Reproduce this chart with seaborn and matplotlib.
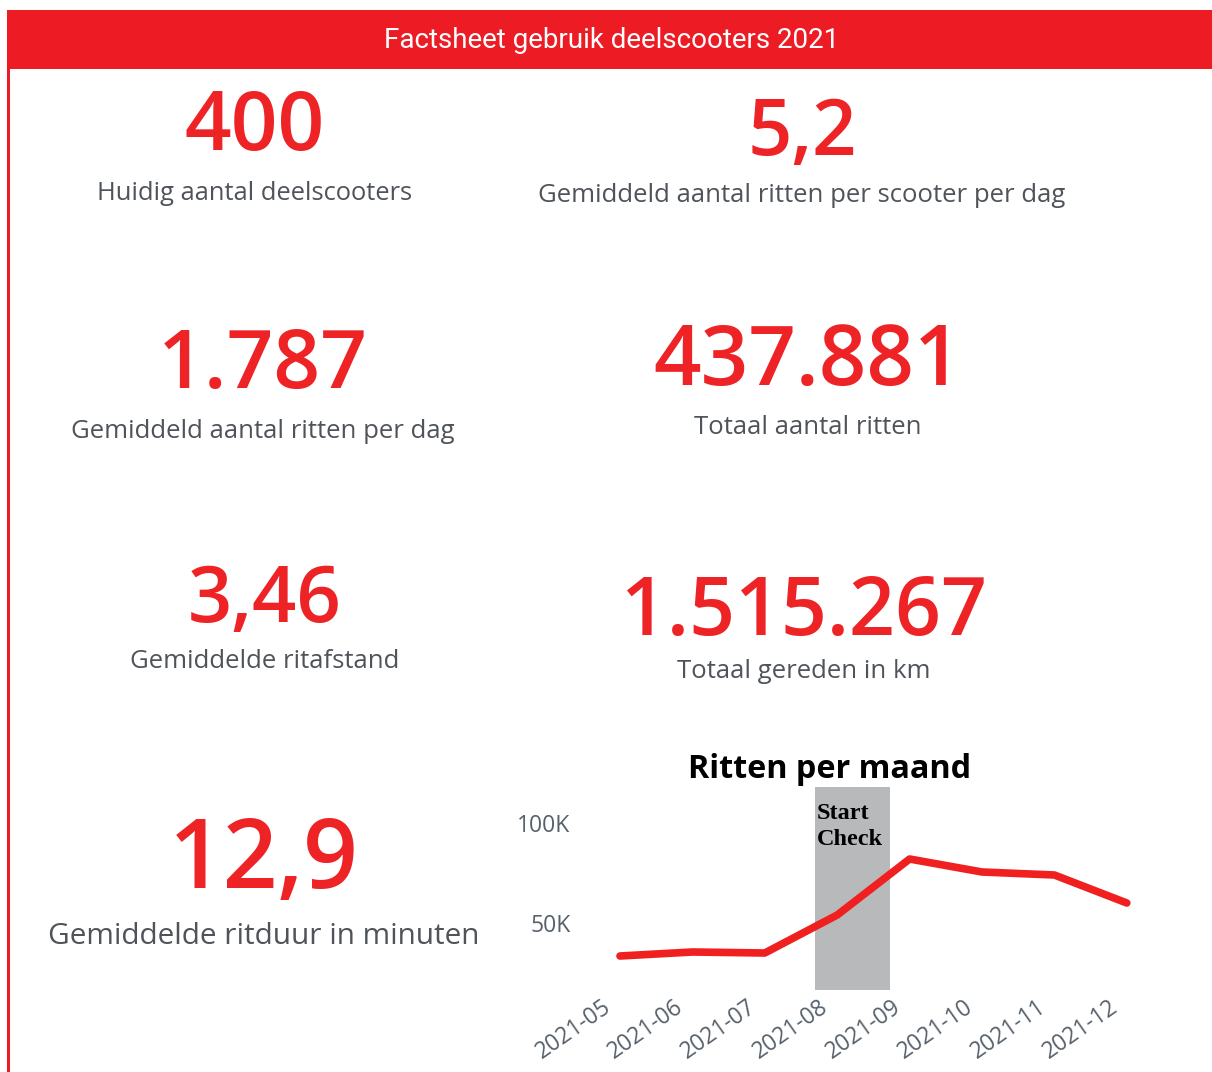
import numpy as np
import pandas as pd
import matplotlib.pyplot as plt
import matplotlib.transforms as mtransforms
import seaborn as sns
from matplotlib.patches import Rectangle

# data
kpi_values = ['400', '5,2', '1.787', '437.881', '3,46', '1.515.267', '12,9']
kpi_labels = ['Huidig aantal deelscooters',
              'Gemiddeld aantal ritten per scooter per dag',
              'Gemiddeld aantal ritten per dag',
              'Totaal aantal ritten',
              'Gemiddelde ritafstand',
              'Totaal gereden in km',
              'Gemiddelde ritduur in minuten']
months = ['2021-05', '2021-06', '2021-07', '2021-08',
          '2021-09', '2021-10', '2021-11', '2021-12']
ritten = [33500, 35500, 35000, 54000, 82000, 75500, 74000, 60000]
check_start, check_end = 2.69, 3.73   # positie van "Start Check" in maanden

RED = '#EE2326'
GREY = '#4f545a'

sns.set_theme(style='white')
plt.rcParams['font.family'] = ['Open Sans', 'DejaVu Sans']

W, H = 1212, 1072
fig = plt.figure(figsize=(W / 100, H / 100), dpi=100)

# achtergrond in pixels
bg = fig.add_axes([0, 0, 1, 1])
bg.set_xlim(0, W)
bg.set_ylim(H, 0)
bg.axis('off')
bg.add_patch(Rectangle((7, 10), W - 7, 59, color='#ED1C24', lw=0))
bg.add_patch(Rectangle((7, 10), 2.5, H - 10, color='#ED1C24', lw=0))
bg.text(612, 41, 'Factsheet gebruik deelscooters 2021', color='white',
        fontsize=20, family=['Roboto', 'DejaVu Sans'], ha='center', va='center')

# (x, baseline getal, midden label, grootte getal, grootte label)
layout = [(255, 150, 193, 59, 18.4),
          (802, 155, 196, 56, 18.5),
          (263, 388, 431, 59, 18.5),
          (808, 385, 427, 60, 18.5),
          (265, 622, 662, 56, 18.5),
          (804, 635, 672, 58, 18.5),
          (264, 888, 936, 69, 21.4)]
for val, lab, (x, yb, yl, fs, ls) in zip(kpi_values, kpi_labels, layout):
    bg.text(x, yb, val, color=RED, fontsize=fs, fontweight='semibold',
            ha='center', va='baseline')
    bg.text(x, yl, lab, color=GREY, fontsize=ls, ha='center', va='center')

# lijngrafiek
ax = fig.add_axes([590 / W, (H - 990) / H, 560 / W, 203 / H])
df = pd.DataFrame({'maand': months, 'ritten': ritten})
sns.lineplot(data=df, x='maand', y='ritten', ax=ax, color='#F02020', lw=5.5,
             solid_capstyle='round', solid_joinstyle='round', zorder=3)
ax.axvspan(check_start, check_end, color='#B7B9BA', lw=0, zorder=2)
ax.text(check_start + 0.03, 110000, 'Start\nCheck', family='Liberation Serif',
        fontweight='bold', fontsize=17.5, color='black', va='top', ha='left',
        linespacing=1.3, zorder=4)
ax.set_xlim(-0.414, 7.32)
ax.set_ylim(16500, 118000)
ax.set_yticks([50000, 100000])
ax.set_yticklabels(['50K', '100K'])
ax.set_xticks(range(len(months)))
ax.set_xticklabels(months, rotation=35, ha='right', rotation_mode='anchor')
ax.tick_params(axis='both', labelsize=16.5, colors='#56616c', length=0, pad=10)
ax.tick_params(axis='y', pad=14)
shift = mtransforms.ScaledTranslation(-18 / 100, 9 / 100, fig.dpi_scale_trans)
for t in ax.get_xticklabels():
    t.set_transform(t.get_transform() + shift)
ax.set_xlabel('')
ax.set_ylabel('')
for s in ax.spines.values():
    s.set_visible(False)
ax.grid(False)
fig.text(830 / W, 1 - 770 / H, 'Ritten per maand', fontsize=23.3,
         fontweight='bold', color='black', ha='center', va='center')

fig.savefig('out.png', dpi=100)
